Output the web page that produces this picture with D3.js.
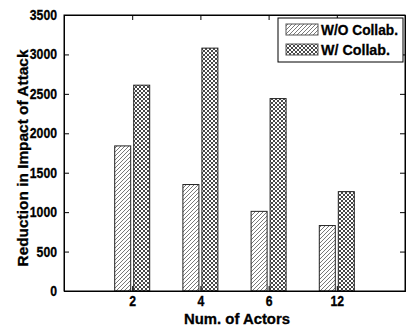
<!DOCTYPE html>
<html><head><meta charset="utf-8">
<script src="https://cdn.jsdelivr.net/npm/d3@7"></script>
<style>body{margin:0;background:#fff}svg{display:block}text{font-family:"Liberation Sans",Arial,sans-serif;font-weight:bold}</style>
</head><body><svg id="c" width="412" height="327"></svg>
<script>
const categories = ["2","4","6","12"];
const seriesNames = ["W/O Collab.","W/ Collab."];
const woCollab = [1840,1350,1010,830];
const wCollab = [2610,3080,2440,1260];
const yTicks = [0,500,1000,1500,2000,2500,3000,3500];

const svg = d3.select("#c");
const m = {l:64,r:7,t:15,b:36};
const W = 412, H = 327;
const iw = W-m.l-m.r, ih = H-m.t-m.b;
const defs = svg.append("defs");
const p1 = defs.append("pattern").attr("id","hatch").attr("patternUnits","userSpaceOnUse").attr("width",4).attr("height",4);
p1.append("rect").attr("width",4).attr("height",4).attr("fill","#fff");
p1.append("path").attr("d","M-1,1 l2,-2 M0,4 l4,-4 M3,5 l2,-2").attr("stroke","#555").attr("stroke-width",0.8);
const p2 = defs.append("pattern").attr("id","cross").attr("patternUnits","userSpaceOnUse").attr("width",4).attr("height",4);
p2.append("rect").attr("width",4).attr("height",4).attr("fill","#fff");
p2.append("path").attr("d","M-1,1 l2,-2 M0,4 l4,-4 M3,5 l2,-2 M-1,3 l2,2 M0,0 l4,4 M3,-1 l2,2").attr("stroke","#333").attr("stroke-width",0.9);

const g = svg.append("g").attr("transform",`translate(${m.l},${m.t})`);
const x = d3.scaleLinear().domain([0,5]).range([0,iw]);
const y = d3.scaleLinear().domain([0,3500]).range([ih,0]);
const bw = 16, gap = 3;

const data = categories.map((c,i)=>({c,i,vals:[woCollab[i],wCollab[i]]}));
const fills = ["url(#hatch)","url(#cross)"];
data.forEach(d=>{
  d.vals.forEach((v,j)=>{
    const cx = x(d.i+1);
    const x0 = j===0 ? cx - gap/2 - bw : cx + gap/2;
    g.append("rect").attr("x",x0).attr("y",y(v)).attr("width",bw).attr("height",ih-y(v))
      .attr("fill",fills[j]).attr("stroke","#222").attr("stroke-width",1);
  });
});

// axes
const yAx = d3.axisLeft(y).tickValues(yTicks).tickFormat(d3.format("d")).tickSize(-5).tickPadding(7);
const yAxR = d3.axisRight(y).tickValues(yTicks).tickSize(-5).tickFormat("");
const xAx = d3.axisBottom(x).tickValues([1,2,3,4]).tickFormat(d=>categories[d-1]).tickSize(-5).tickPadding(5);
const xAxT = d3.axisTop(x).tickValues([1,2,3,4]).tickSize(-5).tickFormat("");
g.append("g").call(yAx);
g.append("g").attr("transform",`translate(${iw},0)`).call(yAxR);
g.append("g").attr("transform",`translate(0,${ih})`).call(xAx);
g.append("g").call(xAxT);
g.selectAll(".domain").attr("stroke","#000");
g.selectAll(".tick line").attr("stroke","#000");
g.selectAll(".tick text").attr("font-size",14).attr("font-weight","bold").attr("fill","#000")
  .attr("stroke","#000").attr("stroke-width",0.3)
  .attr("font-family","Liberation Sans, Arial, sans-serif")
  .each(function(){const t=d3.select(this).text(); if(t) d3.select(this).attr("textLength",t.length*6.8).attr("lengthAdjust","spacingAndGlyphs");});
g.append("rect").attr("width",iw).attr("height",ih).attr("fill","none").attr("stroke","#000");

// titles
svg.append("text").attr("x",237).attr("y",324).attr("text-anchor","middle").attr("font-size",14.5)
  .attr("stroke","#000").attr("stroke-width",0.3)
  .attr("textLength",106).attr("lengthAdjust","spacingAndGlyphs").text("Num. of Actors");
svg.append("text").attr("transform",`translate(28,158) rotate(-90)`).attr("text-anchor","middle").attr("font-size",15)
  .attr("stroke","#000").attr("stroke-width",0.3)
  .attr("textLength",217).attr("lengthAdjust","spacingAndGlyphs").text("Reduction in Impact of Attack");

// legend
const lg = svg.append("g").attr("transform","translate(278,18)");
lg.append("rect").attr("width",125).attr("height",44).attr("fill","#fff").attr("stroke","#000");
const lw = [77,69];
seriesNames.forEach((n,i)=>{
  lg.append("rect").attr("x",8).attr("y",6+i*20).attr("width",32).attr("height",11).attr("fill",fills[i]).attr("stroke","#555");
  lg.append("text").attr("x",43).attr("y",17+i*20).attr("font-size",15)
    .attr("stroke","#000").attr("stroke-width",0.3)
    .attr("textLength",lw[i]).attr("lengthAdjust","spacingAndGlyphs").text(n);
});
</script></body></html>
